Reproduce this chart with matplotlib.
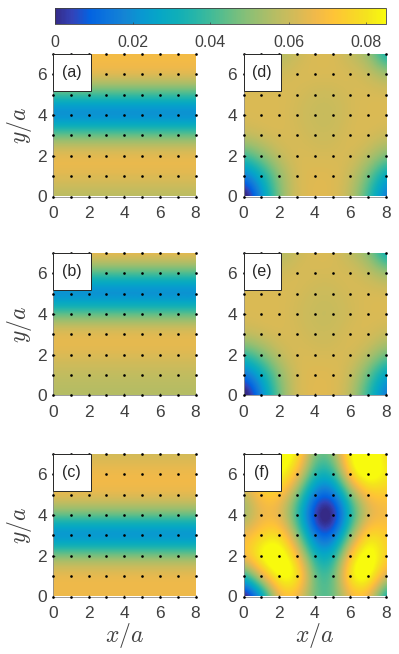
import numpy as np
import matplotlib
matplotlib.use('Agg')
import matplotlib.pyplot as plt
from matplotlib.colors import LinearSegmentedColormap
from matplotlib.patches import Rectangle

plt.rcParams['font.family'] = ['Liberation Sans', 'DejaVu Sans']
plt.rcParams['mathtext.fontset'] = 'cm'

W, H = 399, 654
GREY = '#404040'

# parula colormap, sampled
parula = LinearSegmentedColormap.from_list('parula', [
    (0.2081, 0.1663, 0.5292), (0.1959, 0.2645, 0.7279), (0.0117, 0.3875, 0.8820),
    (0.0498, 0.4586, 0.8641), (0.0793, 0.5200, 0.8312), (0.0343, 0.5966, 0.8199),
    (0.0228, 0.6535, 0.7768), (0.0590, 0.6838, 0.7254), (0.1453, 0.7098, 0.6646),
    (0.2586, 0.7317, 0.5954), (0.3953, 0.7459, 0.5244), (0.5300, 0.7491, 0.4661),
    (0.6473, 0.7456, 0.4188), (0.7525, 0.7384, 0.3768), (0.8507, 0.7299, 0.3360),
    (0.9450, 0.7261, 0.2886), (0.9990, 0.7653, 0.2164), (0.9789, 0.8271, 0.1633),
    (0.9589, 0.8949, 0.1132), (0.9763, 0.9831, 0.0538)])

vmin, vmax = 0, 0.085
x_ticks = [0, 2, 4, 6, 8]
y_ticks = [0, 2, 4, 6]
cbar_ticks = [0, 0.02, 0.04, 0.06, 0.08]
cbar_labels = ['0', '0.02', '0.04', '0.06', '0.08']

# rows are y = 0..7, columns x = 0..8
profile_a = [0.056, 0.064, 0.068, 0.047, 0.010, 0.041, 0.068, 0.068]
profile_b = [0.056, 0.058, 0.063, 0.068, 0.045, 0.010, 0.044, 0.069]
profile_c = [0.066, 0.068, 0.051, 0.010, 0.048, 0.067, 0.068, 0.060]

grid_d = [
    [-0.012, 0.020, 0.050, 0.063, 0.064, 0.064, 0.058, 0.038, 0.010],
    [0.013, 0.030, 0.051, 0.063, 0.064, 0.064, 0.060, 0.046, 0.024],
    [0.040, 0.050, 0.060, 0.063, 0.062, 0.062, 0.063, 0.058, 0.048],
    [0.060, 0.062, 0.063, 0.062, 0.060, 0.060, 0.063, 0.063, 0.061],
    [0.063, 0.063, 0.063, 0.061, 0.059, 0.059, 0.062, 0.063, 0.063],
    [0.063, 0.063, 0.063, 0.062, 0.060, 0.060, 0.062, 0.063, 0.063],
    [0.061, 0.061, 0.061, 0.063, 0.063, 0.063, 0.063, 0.060, 0.054],
    [0.058, 0.058, 0.054, 0.060, 0.063, 0.063, 0.058, 0.052, 0.026],
]
grid_e = [
    [-0.012, 0.017, 0.048, 0.063, 0.064, 0.064, 0.058, 0.036, 0.010],
    [0.010, 0.028, 0.050, 0.063, 0.064, 0.064, 0.060, 0.044, 0.022],
    [0.038, 0.048, 0.060, 0.063, 0.062, 0.062, 0.063, 0.058, 0.046],
    [0.060, 0.062, 0.063, 0.062, 0.060, 0.060, 0.063, 0.063, 0.060],
    [0.063, 0.063, 0.063, 0.061, 0.059, 0.059, 0.061, 0.063, 0.063],
    [0.063, 0.063, 0.063, 0.062, 0.060, 0.060, 0.062, 0.063, 0.063],
    [0.061, 0.061, 0.061, 0.063, 0.062, 0.062, 0.063, 0.059, 0.053],
    [0.058, 0.058, 0.054, 0.060, 0.063, 0.063, 0.057, 0.050, 0.024],
]
grid_f = [
    [-0.014, 0.016, 0.070, 0.068, 0.042, 0.042, 0.068, 0.068, 0.022],
    [0.033, 0.068, 0.092, 0.090, 0.040, 0.040, 0.092, 0.094, 0.060],
    [0.072, 0.092, 0.096, 0.072, 0.028, 0.028, 0.078, 0.096, 0.074],
    [0.066, 0.076, 0.082, 0.050, 0.008, 0.006, 0.050, 0.084, 0.072],
    [0.048, 0.066, 0.064, 0.036, -0.006, -0.010, 0.033, 0.062, 0.067],
    [0.055, 0.074, 0.074, 0.048, 0.010, 0.008, 0.048, 0.074, 0.072],
    [0.072, 0.086, 0.090, 0.072, 0.032, 0.032, 0.084, 0.096, 0.082],
    [0.072, 0.084, 0.094, 0.085, 0.044, 0.048, 0.090, 0.096, 0.074],
]

panels = [
    ('(a)', np.tile(np.array(profile_a)[:, None], (1, 9)), 53, 54),
    ('(b)', np.tile(np.array(profile_b)[:, None], (1, 9)), 53, 253),
    ('(c)', np.tile(np.array(profile_c)[:, None], (1, 9)), 53, 454),
    ('(d)', np.array(grid_d), 243.5, 54),
    ('(e)', np.array(grid_e), 243.5, 253),
    ('(f)', np.array(grid_f), 243.5, 454),
]

fig = plt.figure(figsize=(W / 100, H / 100), dpi=100)
pw, ph = 142.5, 142.5

dots_x, dots_y = np.meshgrid(np.arange(9), np.arange(8))

for label, values, left, top in panels:
    ax = fig.add_axes([left / W, 1 - (top + ph) / H, pw / W, ph / H])
    ax.imshow(values, origin='lower', extent=(-0.5, 8.5, -0.5, 7.5),
              cmap=parula, vmin=vmin, vmax=vmax, aspect='auto',
              interpolation='bicubic')
    ax.set_xlim(0, 8)
    ax.set_ylim(0, 7)
    ax.plot(dots_x.ravel(), dots_y.ravel(), 'o', color='k', ms=1.9, mew=0,
            clip_on=False, zorder=3)
    ax.add_patch(Rectangle((0, 5.2), 2.13, 1.8, fc='white', ec='#262626',
                           lw=0.7, zorder=4, clip_on=False))
    ax.text(1.03, 6.1, label, ha='center', va='center', fontsize=11.5,
            color='#262626', zorder=5)
    ax.set_xticks(x_ticks)
    ax.set_yticks(y_ticks)
    ax.tick_params(direction='in', length=1.5, width=0.5, colors=GREY,
                   labelsize=12.5)
    ax.tick_params(axis='x', pad=7)
    ax.tick_params(axis='y', pad=4.5)
    for s in ['top', 'right']:
        ax.spines[s].set_visible(False)
    for s in ['left', 'bottom']:
        ax.spines[s].set_color('#8c8c8c')
        ax.spines[s].set_linewidth(0.6)
    if left < 100:
        ax.set_ylabel(r'$y/a$', fontsize=17, color=GREY, labelpad=2)
    if top > 400:
        ax.set_xlabel(r'$x/a$', fontsize=17, color=GREY, labelpad=0)

# colorbar
cax = fig.add_axes([54.5 / W, 1 - 24 / H, 331.5 / W, 16 / H])
sm = plt.cm.ScalarMappable(cmap=parula, norm=plt.Normalize(vmin, vmax))
cbar = fig.colorbar(sm, cax=cax, orientation='horizontal')
cbar.set_ticks(cbar_ticks, labels=cbar_labels)
cbar.ax.tick_params(direction='in', length=1.5, width=0.5, colors=GREY,
                    labelsize=11.5, pad=8)
cbar.outline.set_edgecolor('#404040')
cbar.outline.set_linewidth(0.6)

fig.savefig('out.png', dpi=100)
